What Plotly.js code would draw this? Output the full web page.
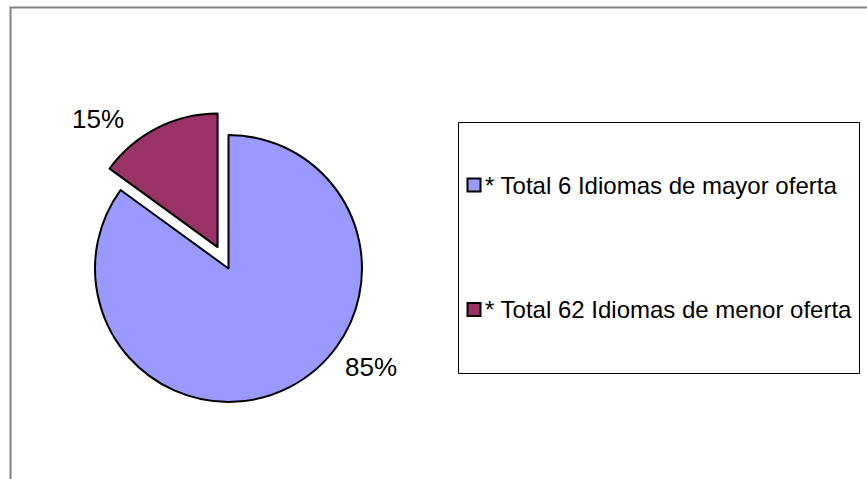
<!DOCTYPE html>
<html>
<head>
<meta charset="utf-8">
<script src="https://cdn.plot.ly/plotly-3.0.1.min.js"></script>
<style>
  html, body { margin: 0; padding: 0; background: #ffffff; }
  #chart { width: 867px; height: 479px; }
</style>
</head>
<body>
<div id="chart"></div>
<script>
// ---- data ----
var categories = ["* Total 6 Idiomas de mayor oferta", "* Total 62 Idiomas de menor oferta"];
var values = [85, 15];
var sliceColors = ["#9999FF", "#993366"];
var pulls = [0, 0.18];

// ---- helpers ----
var W = 867, H = 479;
function px(x) { return x / W; }
function py(y) { return 1 - y / H; }
var total = values.reduce(function (a, b) { return a + b; }, 0);
var pctText = values.map(function (v) { return Math.round(v / total * 100) + "%"; });

var FONT = "'Liberation Sans', Arial, Helvetica, sans-serif";

var trace = {
  type: "pie",
  labels: categories,
  values: values,
  sort: false,
  direction: "clockwise",
  rotation: 0,
  pull: pulls,
  textinfo: "none",
  hoverinfo: "label+percent",
  marker: { colors: sliceColors, line: { color: "#000000", width: 2 } },
  domain: { x: [px(71), px(386)], y: [py(426), py(111)] },
  showlegend: false
};

// label positions (layout only)
var labelPos = [[370.5, 367], [97.5, 119]];
var legendRows = [185, 309.5];

var shapes = [
  // outer chart frame
  { type: "rect", xref: "paper", yref: "paper", x0: px(10.5), x1: 1.05, y0: -0.05, y1: py(7.5),
    line: { color: "#808080", width: 2 }, fillcolor: "rgba(0,0,0,0)", layer: "below" },
  // legend box
  { type: "rect", xref: "paper", yref: "paper", x0: px(458.5), x1: px(859.5), y0: py(373.5), y1: py(122.5),
    line: { color: "#000000", width: 1 }, fillcolor: "#ffffff", layer: "below" }
];
var annotations = [];

values.forEach(function (v, i) {
  annotations.push({
    xref: "paper", yref: "paper", x: px(labelPos[i][0]), y: py(labelPos[i][1]),
    xanchor: "center", yanchor: "middle", showarrow: false,
    text: pctText[i], font: { family: FONT, size: 26, color: "#000000" }
  });
  var cy = legendRows[i];
  shapes.push({
    type: "rect", xref: "paper", yref: "paper",
    x0: px(467.5), x1: px(480.5), y0: py(cy + 6.5), y1: py(cy - 6.5),
    line: { color: "#000000", width: 2 }, fillcolor: sliceColors[i]
  });
  annotations.push({
    xref: "paper", yref: "paper", x: px(483), y: py(cy),
    xanchor: "left", yanchor: "middle", showarrow: false,
    text: categories[i], font: { family: FONT, size: 24, color: "#000000" }
  });
});

var layout = {
  width: W, height: H,
  margin: { l: 0, r: 0, t: 0, b: 0 },
  paper_bgcolor: "#ffffff",
  plot_bgcolor: "#ffffff",
  shapes: shapes,
  annotations: annotations,
  showlegend: false
};

Plotly.newPlot("chart", [trace], layout, { displayModeBar: false, staticPlot: true });
</script>
</body>
</html>
